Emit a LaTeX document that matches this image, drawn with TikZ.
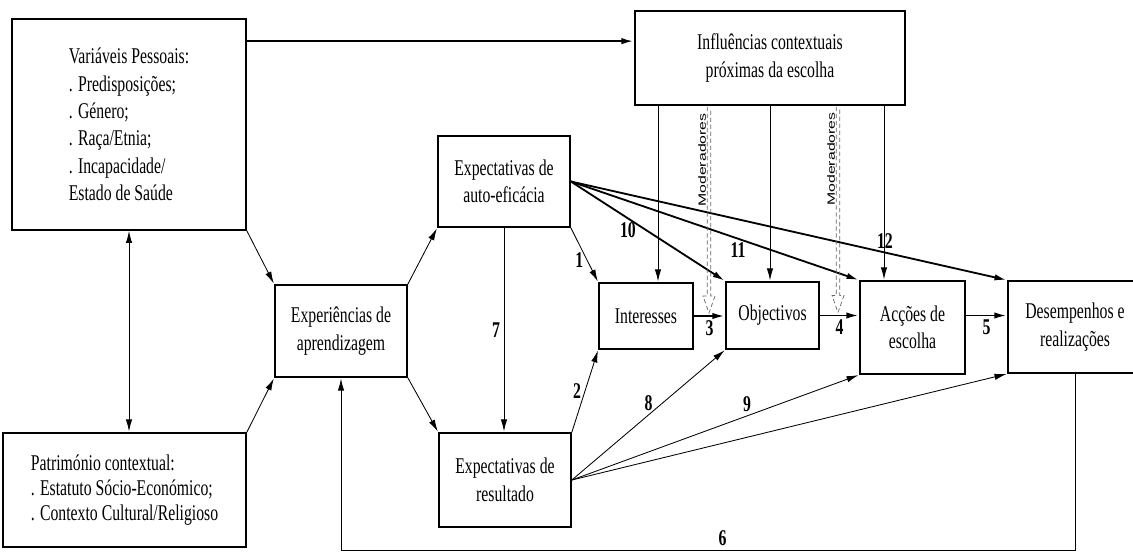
\documentclass[tikz,border=0pt]{standalone}
\usepackage{fontspec}
\setmainfont{Liberation Serif}[FakeStretch=0.7]
\newfontfamily\modfont{Liberation Sans}[FakeStretch=1.5]
\usetikzlibrary{arrows.meta,calc}

\begin{document}
\begin{tikzpicture}[x=0.025cm,y=-0.025cm,shorten >=0.5pt,
  >={Latex[length=8.5pt,width=4.5pt]},
  font=\fontsize{16}{19.5}\selectfont,
  box/.style={draw,line width=1.2pt,inner sep=0pt,align=center},
  thinline/.style={line width=0.6pt},
  boldline/.style={line width=1.3pt},
  num/.style={font=\fontsize{16}{16}\selectfont\bfseries,inner sep=2.5pt},
  modline/.style={draw=black!60,line width=0.5pt,densely dashed,line join=miter},
  modtext/.style={font=\modfont\fontsize{7.5}{8}\selectfont,rotate=90,inner sep=0pt}]
  \useasboundingbox (0,0) rectangle (1133,553);
  \path
  node[box,align=left,minimum width=5.85cm,minimum height=5.275cm] (VP) at (129,124.5)
    {Variáveis Pessoais:\\. Predisposições;\\. Género;\\. Raça/Etnia;\\. Incapacidade/\\Estado de Saúde}
  node[box,align=left,minimum width=6.075cm,minimum height=2.85cm,
    font=\fontsize{16}{17.7}\selectfont] (PC) at (124.5,490)
    {Património contextual:\\. Estatuto Sócio-Económico;\\. Contexto Cultural/Religioso}
  node[box,minimum width=3.3cm,minimum height=2.3cm] (EA) at (341,331) {Experiências de\\aprendizagem}
  node[box,minimum width=3.3cm,minimum height=2.275cm] (EAE) at (504,181.5) {Expectativas de\\auto-eficácia}
  node[box,minimum width=3.3cm,minimum height=2.35cm] (ER) at (505,480) {Expectativas de\\resultado}
  node[box,minimum width=2.35cm,minimum height=1.65cm] (INT) at (646,316) {Interesses}
  node[box,minimum width=2.325cm,minimum height=1.675cm] (OBJ) at (772.5,315.5) {Objectivos}
  node[box,minimum width=2.625cm,minimum height=2.325cm] (AC) at (912.5,327.5) {Acções de\\escolha}
  node[box,minimum width=3.35cm,minimum height=2.3cm] (DR) at (1075,327) {Desempenhos e\\realizações}
  node[box,minimum width=6.75cm,minimum height=2.35cm] (IC) at (770,58) {Influências contextuais\\próximas da escolha}
  node[modtext] (mod1) at (702,160) {Moderadores}
  node[modtext] (mod2) at (831,159) {Moderadores}
  ;
  \coordinate (vpout) at ([yshift=-0.575cm]VP.north east);
  \path[->,thinline]
  (VP.south) edge[<->] (VP.south |- PC.north)
  (VP.south east) edge (EA.north west)
  (PC.north east) edge (EA.south west)
  (EA.north east) edge (EAE.south west)
  (EA.south east) edge (ER.north west)
  (EAE.south) edge node[num,left] {7} (EAE.south |- ER.north)
  (vpout) edge[boldline] (vpout -| IC.west)

  (EAE.south east) edge node[num,left,pos=.6] {1} (INT.north west)
  (ER.north east) edge node[num,left] {2} (INT.south west)

  (INT.east) edge[boldline] node[num,below] {3} (INT.east -| OBJ.west)
  (OBJ.east) edge[boldline] node[num,below] {4} (OBJ.east -| AC.west)
  (AC.east |- OBJ.east) edge[boldline] node[num,below] {5} (DR.west |- OBJ.east)

  (EAE.east) edge[boldline] node[num,below,pos=.37] {10} (OBJ.north west)
  (EAE.east) edge[boldline] node[num,below,pos=.58] {11} (AC.north west)
  (EAE.east) edge[boldline] node[num,above,pos=.72] {12} (DR.north west)

  (ER.east) edge node[num,above,pos=.5] {8} (OBJ.south west)
  (ER.east) edge node[num,above,pos=.61] {9} (AC.south west)
  (ER.east) edge (DR.south west)
  ;
  \foreach \xpos/\target in {658/INT,770/OBJ,884/AC}
    \draw[->,thinline] (IC.south -| \xpos,0) -- (\target.north -| \xpos,0);
  \foreach \xpos/\target in {709/INT,838/OBJ}
    \draw[modline] ($(IC.south -| \xpos,0)+(-1.8,1)$) -- ($(\target.east -| \xpos,0)+(-1.8,-20)$)
      -- ++(-4.2,0) -- ($(\target.east -| \xpos,0)+(0,-3)$) -- ++(6,-17) -- ++(-4.2,0)
      -- ($(IC.south -| \xpos,0)+(1.8,1)$);
  \draw[->,thinline] (DR.south) -- (DR.south |- 0,550) -| node[num,above,pos=.24] {6} (EA.south);
\end{tikzpicture}
\end{document}
